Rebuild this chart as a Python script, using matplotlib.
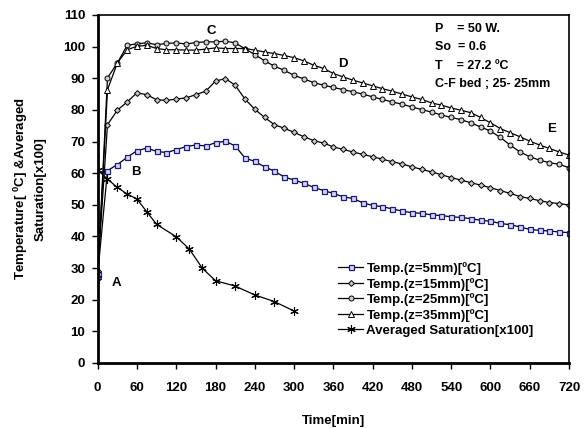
import numpy as np
import matplotlib
matplotlib.use('Agg')
import matplotlib.pyplot as plt

plt.rcParams['font.family'] = ['Liberation Sans', 'DejaVu Sans']
plt.rcParams['font.weight'] = 'bold'
plt.rcParams['mathtext.fontset'] = 'custom'
plt.rcParams['mathtext.rm'] = 'Liberation Sans:bold'
plt.rcParams['mathtext.default'] = 'rm'

# time steps for temperature readings (every 15 min)
time = np.arange(0, 721, 15)

temp_5mm = [28, 60.8, 62.7, 65.0, 67.1, 67.9, 66.9, 66.5, 67.4, 68.4, 68.9, 68.6, 69.6,
            70.1, 68.6, 64.8, 63.7, 62.0, 60.6, 58.8, 57.8, 56.8, 55.5, 54.5, 53.6, 52.5,
            52.0, 50.6, 49.8, 49.4, 48.7, 48.0, 47.5, 47.3, 46.8, 46.6, 46.2, 46.0, 45.6,
            45.1, 44.8, 44.1, 43.7, 43.0, 42.2, 41.9, 41.7, 41.4, 41.2]
temp_15mm = [29, 75.3, 79.9, 82.5, 85.4, 84.8, 83.2, 83.0, 83.4, 83.8, 84.8, 85.9, 89.1,
             89.9, 87.8, 83.4, 80.2, 77.6, 75.3, 74.2, 72.9, 71.5, 70.3, 69.5, 68.3, 67.5,
             66.7, 65.9, 65.2, 64.4, 63.6, 62.9, 62.0, 61.2, 60.4, 59.5, 58.6, 57.8, 57.0,
             56.2, 55.4, 54.5, 53.6, 52.6, 52.0, 51.3, 50.7, 50.4, 49.9]
temp_25mm = [27, 90.1, 94.8, 100.4, 100.9, 101.2, 100.6, 101.0, 101.2, 100.8, 101.3, 101.5,
             101.5, 101.7, 101.2, 99.3, 97.5, 95.5, 93.8, 92.5, 90.9, 89.8, 88.6, 87.8, 87.1,
             86.4, 85.7, 85.0, 84.1, 83.3, 82.5, 81.8, 80.9, 80.1, 79.3, 78.4, 77.6, 76.9,
             75.9, 74.6, 73.3, 71.3, 68.9, 66.7, 65.2, 64.1, 63.3, 62.8, 61.7]
temp_35mm = [27.5, 86.4, 94.8, 99.0, 100.1, 100.4, 99.4, 99.0, 99.0, 98.9, 98.9, 99.2, 99.6,
             99.4, 99.4, 99.4, 98.9, 98.3, 97.8, 97.2, 96.5, 95.5, 94.1, 93.1, 91.5, 90.4,
             89.4, 88.5, 87.6, 86.7, 85.9, 85.0, 84.1, 83.3, 82.2, 81.5, 80.6, 79.9, 79.1,
             77.6, 75.9, 74.1, 72.8, 71.5, 70.1, 68.9, 67.8, 66.7, 65.7]

sat_time = [0, 15, 30, 45, 60, 75, 90, 120, 140, 160, 180, 210, 240, 270, 300]
saturation = [61, 58.1, 55.5, 53.4, 51.8, 47.8, 43.8, 39.9, 36.0, 29.9, 26.0, 24.3, 21.5,
              19.4, 16.4]

labels = ['Temp.(z=5mm)[ºC]', 'Temp.(z=15mm)[ºC]', 'Temp.(z=25mm)[ºC]',
          'Temp.(z=35mm)[ºC]', 'Averaged Saturation[x100]']

fig = plt.figure(figsize=(5.87, 4.28), dpi=100)
ax = fig.add_axes([0.1664, 0.152, 0.803, 0.813])

ms = 3.6
ax.plot(time, temp_5mm, color='black', lw=0.9, marker='s', ms=ms, mfc='#d8d8f0',
        mec='#1a1a8c', mew=0.9, label=labels[0])
ax.plot(time, temp_15mm, color='black', lw=0.9, marker='D', ms=ms - 0.6, mfc='#c8c8c8',
        mec='black', mew=0.7, label=labels[1])
ax.plot(time, temp_25mm, color='black', lw=0.9, marker='o', ms=ms, mfc='#d0d0d0',
        mec='black', mew=0.7, label=labels[2])
ax.plot(time, temp_35mm, color='black', lw=0.9, marker='^', ms=ms + 0.4, mfc='white',
        mec='black', mew=0.7, label=labels[3])
ax.plot(sat_time, saturation, color='black', lw=0.9, marker=(6, 2, 0), ms=ms + 2.5,
        mec='black', mew=0.8, label=labels[4])

ax.set_xlim(0, 720)
ax.set_ylim(0, 110)
ax.set_xticks(np.arange(0, 721, 60))
ax.set_yticks(np.arange(0, 111, 10))
ax.tick_params(direction='out', length=4, width=1, labelsize=9.5)
ax.tick_params(axis='x', pad=10)
ax.tick_params(axis='y', pad=5)
for side in ['left', 'bottom']:
    ax.spines[side].set_linewidth(2)
for side in ['top', 'right']:
    ax.spines[side].set_linewidth(1.2)

ax.set_xlabel('Time[min]', fontsize=9.5, fontweight='bold', labelpad=15)
ax.set_ylabel('Temperature[ $^{0}$C] &Averaged\nSaturation[x100]', fontsize=9.5,
              fontweight='bold', labelpad=12, linespacing=1.5)

# point labels
for txt, tx, ty in [('A', 29, 25.4), ('B', 59, 60.4), ('C', 174, 104.9),
                    ('D', 375, 94.6), ('E', 693, 74.1)]:
    ax.text(tx, ty, txt, fontsize=9.5, fontweight='bold', ha='center', va='center')

info = ['P    = 50 W.', 'So  = 0.6', 'T    = 27.2 ºC', 'C-F bed ; 25- 25mm']
for i, line in enumerate(info):
    ax.text(515, 105.7 - i * 5.85, line, fontsize=9, fontweight='bold', ha='left',
            va='center')

ax.legend(loc='upper left', bbox_to_anchor=(0.51, 0.29), frameon=False, fontsize=9.5,
          handlelength=1.9, handletextpad=0.25, labelspacing=0.2, borderpad=0,
          borderaxespad=0)

fig.savefig('out.png', dpi=100)
